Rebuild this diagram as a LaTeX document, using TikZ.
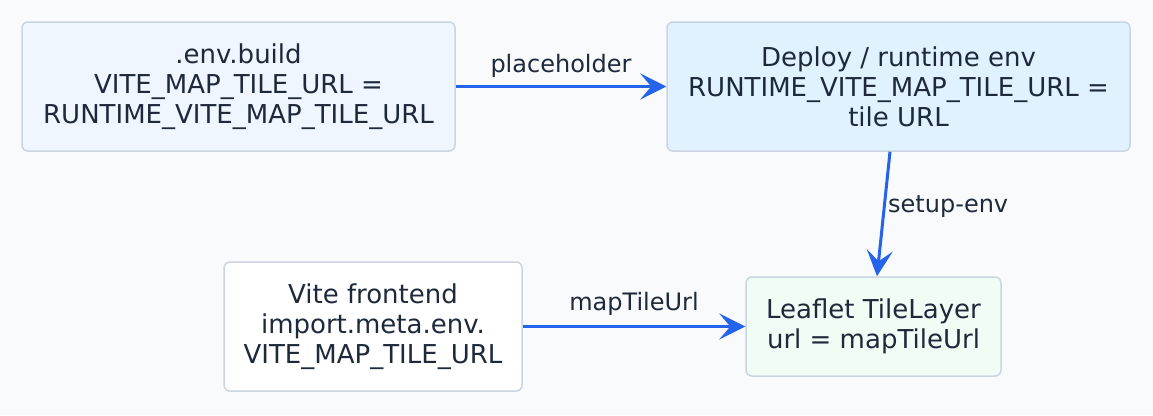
\documentclass[tikz,border=0pt]{standalone}
\usepackage{fontspec}
\setmainfont{DejaVu Sans}
\usetikzlibrary{arrows.meta}
\definecolor{bgc}{HTML}{F8FAFC}
\definecolor{bordc}{HTML}{CBD5E1}
\definecolor{txtc}{HTML}{1E293B}
\definecolor{arrc}{HTML}{2563EB}
\definecolor{fillA}{HTML}{EFF6FF}
\definecolor{fillB}{HTML}{E0F2FE}
\definecolor{fillD}{HTML}{F0FDF4}
\tikzset{
  box/.style={draw=bordc, line width=1.5pt, rounded corners=6pt, align=center,
    text=txtc, font=\fontsize{26}{30}\selectfont, inner sep=0pt},
  conn/.style={draw=arrc, line width=3pt, -{Stealth[length=26pt,width=26pt,inset=11pt]}},
  elabel/.style={text=txtc, font=\fontsize{24}{28}\selectfont, inner sep=0pt}
}
\begin{document}
\begin{tikzpicture}[x=1pt,y=-1pt]
\fill[bgc] (0,0) rectangle (1153,415);
\useasboundingbox (0,0) rectangle (1153,415);
\node[box, fill=fillA, minimum width=433pt, minimum height=129pt] (A) at (238.5,86.5)
  {.env.build\\VITE\_MAP\_TILE\_URL =\\RUNTIME\_VITE\_MAP\_TILE\_URL};
\node[box, fill=fillB, minimum width=463pt, minimum height=129pt] (B) at (898.5,86.5)
  {Deploy / runtime env\\RUNTIME\_VITE\_MAP\_TILE\_URL =\\tile URL};
\node[box, fill=white, minimum width=298pt, minimum height=129pt] (C) at (373,326.5)
  {Vite frontend\\import.meta.env.\\VITE\_MAP\_TILE\_URL};
\node[box, fill=fillD, minimum width=255pt, minimum height=99pt] (D) at (873.5,326.5)
  {Leaflet TileLayer\\url = mapTileUrl};
\draw[conn] (A.east) -- (B.west);
\draw[conn] ([xshift=-8.5pt]B.south) -- ([xshift=3.5pt]D.north);
\draw[conn] (C.east) -- (D.west);
\node[elabel] (l1) at (561,66) {placeholder};
\node[elabel, anchor=west] (l2) at (888,207) {setup-env};
\node[elabel] (l3) at (634,304) {mapTileUrl};
\end{tikzpicture}
\end{document}
